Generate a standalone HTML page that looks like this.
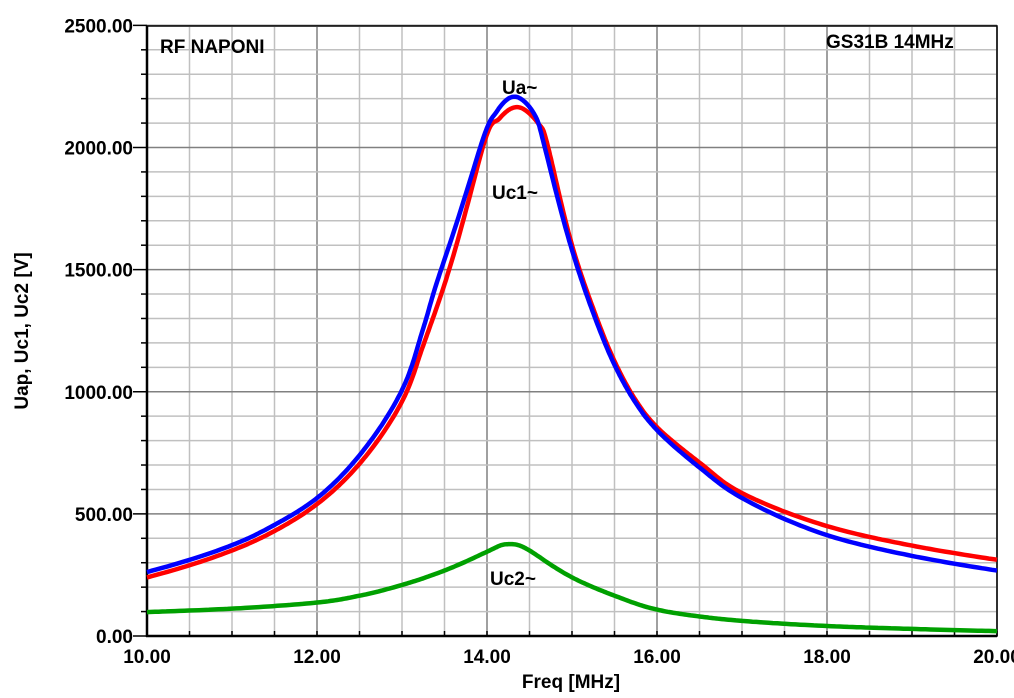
<!DOCTYPE html><html><head><style>body{margin:0;background:#fff}svg{display:block}text{font-family:"Liberation Sans",Arial,sans-serif;font-weight:bold}</style></head><body>
<svg id="s" width="1014" height="698" xmlns="http://www.w3.org/2000/svg"></svg>
<script>
const s=document.getElementById('s');let h='';
const X=f=>147+(f-10)*85, Y=v=>636-v*0.24425;
for(let i=0;i<=20;i++){const x=147+i*42.5;h+=`<line x1="${x}" y1="27" x2="${x}" y2="636" stroke="${i%4==0?'#808080':'#c0c0c0'}" stroke-width="1.5"/>`;}
for(let i=0;i<=25;i++){const y=Y(i*100);h+=`<line x1="147" y1="${y}" x2="997" y2="${y}" stroke="${i%5==0?'#808080':'#c0c0c0'}" stroke-width="1.5"/>`;
h+=`<line x1="${i%5==0?133:141}" y1="${y}" x2="147" y2="${y}" stroke="#000" stroke-width="1.5"/>`;}
h+=`<rect x="147" y="26" width="850" height="610" fill="none" stroke="#000" stroke-width="1.5"/>`;
h+=`<line x1="147" y1="26" x2="147" y2="637" stroke="#000" stroke-width="2.5"/><line x1="146" y1="636" x2="997" y2="636" stroke="#000" stroke-width="2.5"/>`;
for(let i=0;i<=20;i++){const x=147+i*42.5;h+=`<line x1="${x}" y1="631" x2="${x}" y2="636" stroke="#000" stroke-width="1.5"/>`;}
for(let i=0;i<=5;i++){h+=`<text x="133" y="${Y(i*500)+7}" font-size="19" text-anchor="end">${(i*500).toFixed(2)}</text>`;}
for(let i=0;i<=5;i++){h+=`<text x="${X(10+i*2)}" y="663" font-size="19" text-anchor="middle">${(10+i*2).toFixed(2)}</text>`;}
function path(pts,col){
// Catmull-Rom in (f, ln v), sampled densely
const P=pts.map(p=>[p[0],Math.log(p[1])]);let d='';
for(let i=0;i<P.length-1;i++){const p0=P[Math.max(0,i-1)],p1=P[i],p2=P[i+1],p3=P[Math.min(P.length-1,i+2)];
for(let k=0;k<20;k++){const t=k/20,t2=t*t,t3=t2*t;
const c=(a,b,c_,e)=>0.5*((2*b)+(-a+c_)*t+(2*a-5*b+4*c_-e)*t2+(-a+3*b-3*c_+e)*t3);
const f=c(p0[0],p1[0],p2[0],p3[0]),v=Math.exp(c(p0[1],p1[1],p2[1],p3[1]));
d+=(d?'L':'M')+X(f).toFixed(1)+','+Y(v).toFixed(1);}}
const L=pts[pts.length-1];d+='L'+X(L[0])+','+Y(L[1]);
h+=`<path d="${d}" fill="none" stroke="${col}" stroke-width="4.5" stroke-linejoin="round"/>`;}
path([[10,98],[11,112],[12,137],[12.5,165],[13,209],[13.5,268],[14,345],[14.24,376],[14.5,350],[15,240],[15.5,165],[16,108],[16.5,80],[17,62],[18,41],[19,29],[20,20]],'#00a000');
path([[10,240],[11,350],[11.5,430],[12,540],[12.5,705],[13,960],[13.25,1190],[13.5,1440],[13.95,2000],[14.15,2120],[14.37,2165],[14.6,2100],[14.72,2000],[15,1600],[15.25,1340],[15.5,1125],[15.75,965],[16,855],[16.5,710],[17,585],[18,450],[19,370],[20,312]],'#ff0000');
path([[10,262],[11,372],[11.5,455],[12,565],[12.5,740],[13,1007],[13.25,1260],[13.46,1500],[13.92,2000],[14.12,2150],[14.33,2208],[14.55,2140],[14.68,2000],[15,1580],[15.25,1322],[15.5,1110],[15.75,954],[16,843],[16.5,690],[17,565],[18,413],[19,328],[20,268]],'#0000ff');
h+=`<text x="160" y="53" font-size="19">RF NAPONI</text><text x="826" y="48" font-size="19">GS31B 14MHz</text>`;
h+=`<text x="502" y="94" font-size="19">Ua~</text><text x="492" y="199" font-size="19">Uc1~</text><text x="490" y="585" font-size="19">Uc2~</text>`;
h+=`<text x="571" y="688" font-size="19" text-anchor="middle">Freq [MHz]</text>`;
h+=`<text transform="translate(28,331) rotate(-90)" font-size="19" text-anchor="middle">Uap, Uc1, Uc2 [V]</text>`;
s.innerHTML=h;
</script></body></html>
